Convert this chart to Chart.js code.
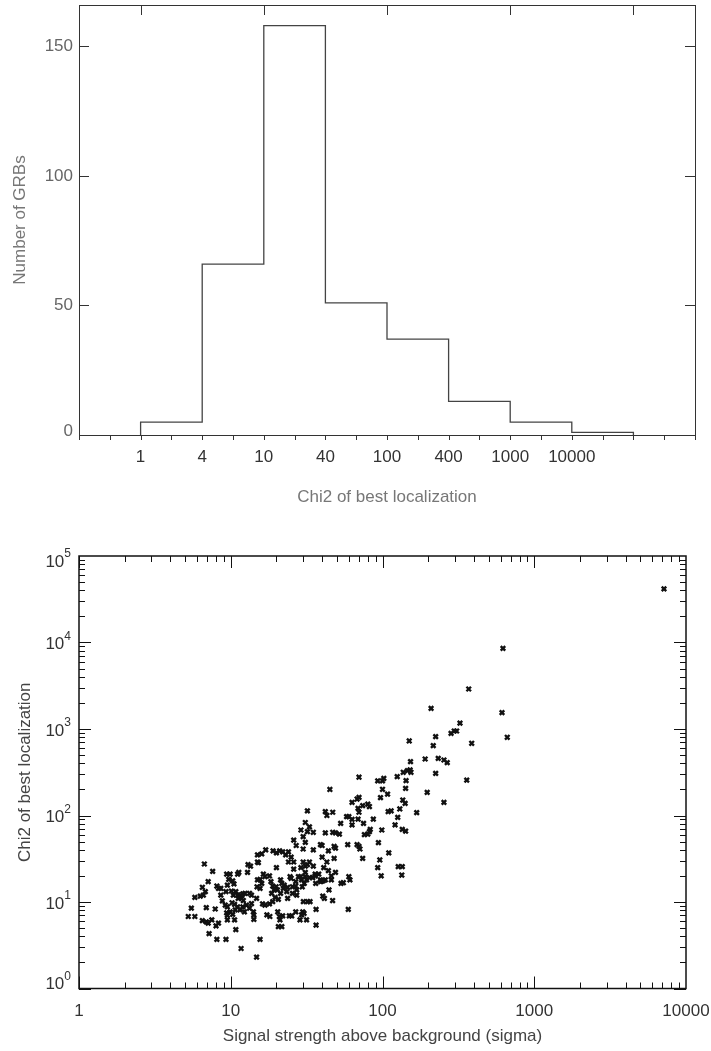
<!DOCTYPE html>
<html>
<head>
<meta charset="utf-8">
<script src="https://cdn.jsdelivr.net/npm/chart.js@4.4.0/dist/chart.umd.min.js"></script>
<style>
  html, body { margin: 0; padding: 0; background: #fff; }
  body { width: 711px; height: 1051px; position: relative; overflow: hidden; }
  canvas { position: absolute; left: 0; }
  #hist { top: 0; }
  #scat { top: 530px; }
</style>
</head>
<body>
<canvas id="hist" width="711" height="520"></canvas>
<canvas id="scat" width="711" height="521"></canvas>
<script>
// ===== DADOS: histograma =====
const binLabels = ['1', '4', '10', '40', '100', '400', '1000', '10000'];
const binCounts = [5, 66, 158, 51, 37, 13, 5, 1];
const countTicks = [0, 50, 100, 150];

// ===== DADOS: dispersão (sigma x chi2) =====
const sigmaFaint = [
  45, 63, 68, 70, 69, 74, 80, 82, 70, 32,
  42, 47, 43, 58, 60, 63, 53, 63, 69, 75,
  87, 83, 82, 80, 76, 31, 33, 32, 35, 30,
  29, 42, 47, 49, 52, 26, 27, 31, 30, 35,
  39, 40, 44, 48, 49, 43, 59, 68, 71, 70,
  74, 48, 40, 15, 16, 17, 19, 20, 21, 22,
  23, 24, 25, 24, 20, 26, 26, 30, 31, 32,
  33, 29, 31, 35, 36, 36, 38, 39, 40, 42,
  44, 46, 46, 49, 41, 13, 13.5, 15, 15.2, 6.7,
  7.6, 9.4, 9.9, 11.1, 11.3, 12.9, 7.1, 16.4, 16.8, 18,
  15.6, 15, 16, 14.9, 15.6, 18.4, 18.9, 19.9, 21.3, 21.7,
  22.5, 22.2, 23.7, 23.4, 21.3, 20.3, 19.3, 24.6, 25, 26.8,
  27.9, 28.9, 29.3, 30.9, 31.6, 30.5, 29.6, 33, 34.7, 25.5,
  26.8, 27.2, 25.5, 23.7, 27.2, 30.1, 32.1, 33.3, 36.3, 39.1,
  40.7, 53.3, 55.2, 60, 61, 44.4, 40.4, 41.4, 46.9, 59.5,
  36.5, 9.7, 9.5, 10.3, 10.5, 8.1, 8.3, 8.6, 6.5, 6.8,
  6.6, 6.3, 5.8, 9.3, 8.6, 10.1, 10.4, 10.8, 11.1, 11.6,
  12, 12.4, 13.3, 13.7, 14.8, 11.8, 11.2, 8.8, 9.2, 9.5,
  10.2, 10.6, 11.1, 12.1, 12, 12.7, 13.3, 13.7, 14.1, 12.3,
  11.5, 10.7, 9.4, 9.9, 10.3, 9.5, 14.2, 14.2, 16.2, 16.8,
  18, 18.9, 20.6, 19.6, 18.6, 17.3, 18.1, 20.4, 20.9, 21.1,
  22, 20.6, 21.7, 24.3, 25.2, 26.8, 29.8, 30.4, 29.3, 28.6,
  31.6, 36.5, 5.5, 5.25, 5.8, 6.9, 7.9, 6.5, 6.9, 7.1,
  7.5, 8, 8.3, 7.2, 8.1, 9.3, 9.5, 10.6, 10.8, 11.7,
  15.6, 14.8
];
const chi2Faint = [
  200, 142, 155, 162, 121, 130, 135, 127, 109, 113,
  111, 109, 100, 97, 97, 90, 81, 78, 91, 81,
  91, 69, 65, 61, 60, 83, 74, 65, 64, 57,
  68, 63, 64, 63, 61, 52, 45, 49, 41, 40,
  46, 45, 39, 44, 42, 29, 46, 46, 41, 44,
  32, 32, 33, 35, 36, 40, 39, 37, 39, 38,
  35, 38, 33, 29, 25, 24, 29, 29, 26, 27,
  29, 25, 22, 26, 21, 20, 21, 18, 17.5, 18,
  23, 20, 18, 22, 25, 27, 26, 29, 28.5, 27.5,
  22.6, 21, 21, 21, 22, 22, 17.2, 21, 19.6, 20,
  18.3, 18, 16.4, 15, 14.4, 17.2, 15.3, 15, 18, 16.4,
  15.7, 14.4, 14.8, 13.2, 12.6, 13.8, 13.8, 19.6, 18.8, 17.2,
  19.6, 19.6, 18, 19.6, 18, 16.4, 15, 19.1, 19.1, 15,
  15.3, 13.8, 12.6, 11, 12, 10.1, 10.1, 10.1, 16.4, 17.2,
  17.6, 16.4, 16.7, 19.6, 18, 13.8, 11.7, 11, 10.4, 8.2,
  8.2, 18.3, 15.7, 17.5, 16.2, 15.3, 14.4, 14.4, 14.8, 13.2,
  12, 11.7, 11.3, 13.2, 12, 13.4, 12, 13.2, 12, 12,
  12.4, 12.6, 12.6, 12, 11, 11, 11, 10.3, 9.2, 8.8,
  9.8, 9.4, 8.8, 10.4, 8.8, 9.2, 8.5, 9.6, 7.7, 7.7,
  8.1, 8.1, 7.5, 7.7, 7.2, 7.0, 7.1, 6.3, 9.5, 9.2,
  9.5, 10.1, 10.7, 11.3, 12.6, 7.1, 6.8, 7.7, 6.8, 6.2,
  6.9, 5.2, 5.2, 6.9, 6.9, 7.7, 7.7, 7.4, 7.1, 6.2,
  6.2, 5.4, 8.5, 6.8, 6.8, 8.6, 8.3, 6.1, 5.9, 5.7,
  6.2, 5.3, 5.7, 4.3, 3.7, 3.7, 6.2, 6.2, 4.8, 2.9,
  3.7, 2.3
];
const sigmaBright = [
  324, 297, 308, 283, 224, 216, 387, 150, 191, 233,
  254, 267, 153, 146, 152, 137, 154, 224, 125, 143,
  359, 93, 100, 102, 100, 97, 108, 142, 197, 254,
  136, 141, 130, 168, 109, 114, 126, 121, 135, 142,
  99, 94, 110, 96, 93, 127, 135, 98, 134,
  7160, 622, 370, 209, 613, 664, 70
];
const chi2Bright = [
  1170, 948, 948, 892, 815, 641, 684, 727, 450, 458,
  438, 408, 419, 330, 336, 316, 316, 307, 281, 253,
  257, 251, 251, 269, 201, 161, 177, 206, 185, 142,
  151, 138, 119, 108, 111, 113, 95, 78, 69, 66,
  68, 48.5, 37, 30.6, 25, 25.6, 25.6, 20.1, 20.5,
  41600, 8570, 2900, 1735, 1545, 802, 277
];
const sigmaTicks = [1, 10, 100, 1000, 10000];
const chi2Exponents = [0, 1, 2, 3, 4, 5];

const FONT = '"Liberation Sans", Arial, Helvetica, sans-serif';

function seg(ctx, x1, y1, x2, y2) {
  ctx.beginPath();
  ctx.moveTo(x1, y1);
  ctx.lineTo(x2, y2);
  ctx.stroke();
}

// ===== HISTOGRAMA =====
// contorno em degraus: cada bin vai da borda i+1 até i+2 (posição no eixo)
const stepPts = [{ x: 1, y: 0 }];
binCounts.forEach((c, i) => stepPts.push({ x: i + 1, y: c }));
stepPts.push({ x: binCounts.length + 1, y: binCounts[binCounts.length - 1] });
stepPts.push({ x: binCounts.length + 1, y: 0 });

const histAxes = {
  id: 'histAxes',
  afterDraw(chart) {
    const { ctx, chartArea: a, scales: { x, y } } = chart;
    ctx.save();
    ctx.strokeStyle = '#333';
    ctx.lineWidth = 1;
    ctx.strokeRect(a.left + 0.5, a.top + 0.5, a.right - a.left, a.bottom - a.top);

    // marcas sob o eixo, a cada meia posição
    for (let v = 0; v <= 10; v += 0.5) {
      const px = Math.round(x.getPixelForValue(v)) + 0.5;
      seg(ctx, px, a.bottom, px, a.bottom + 5);
    }
    // marcas no topo
    [1, 3, 5, 7, 9].forEach(v => {
      const px = Math.round(x.getPixelForValue(v)) + 0.5;
      seg(ctx, px, a.top, px, a.top + 10);
    });
    // marcas do eixo y
    countTicks.forEach(v => {
      const py = Math.round(y.getPixelForValue(v)) + 0.5;
      seg(ctx, a.left, py, a.left + 10, py);
      seg(ctx, a.right, py, a.right - 10, py);
    });

    ctx.font = '17px ' + FONT;
    ctx.fillStyle = '#666';
    ctx.textAlign = 'right';
    ctx.textBaseline = 'middle';
    countTicks.forEach(v => {
      const py = y.getPixelForValue(v);
      ctx.fillText(String(v), a.left - 6, v === 0 ? py - 4 : py);
    });

    ctx.fillStyle = '#333';
    ctx.textAlign = 'center';
    binLabels.forEach((t, i) => {
      ctx.fillText(t, x.getPixelForValue(i + 1), a.bottom + 22);
    });

    ctx.fillStyle = '#777';
    ctx.fillText('Chi2 of best localization', (a.left + a.right) / 2, a.bottom + 62);

    ctx.translate(20, (a.top + a.bottom) / 2);
    ctx.rotate(-Math.PI / 2);
    ctx.fillText('Number of GRBs', 0, 0);
    ctx.restore();
  }
};

new Chart(document.getElementById('hist'), {
  type: 'line',
  data: {
    datasets: [{
      data: stepPts,
      stepped: true,
      borderColor: '#444',
      borderWidth: 1.3,
      pointRadius: 0,
      fill: false,
      clip: false
    }]
  },
  options: {
    responsive: false,
    animation: false,
    layout: { padding: { left: 79, right: 16, top: 5, bottom: 85 } },
    plugins: { legend: { display: false }, tooltip: { enabled: false } },
    scales: {
      x: { type: 'linear', min: 0, max: 10, display: false },
      y: { type: 'linear', min: 0, max: 166, display: false }
    }
  },
  plugins: [histAxes]
});

// ===== DISPERSÃO =====
const logAxes = {
  id: 'logAxes',
  afterDraw(chart) {
    const { ctx, chartArea: a, scales: { x, y } } = chart;
    ctx.save();
    ctx.strokeStyle = '#111';
    ctx.lineWidth = 1.5;
    ctx.strokeRect(a.left, a.top, a.right - a.left, a.bottom - a.top);

    ctx.lineWidth = 1;
    for (let d = 1; d < 10000; d *= 10) {
      for (let m = 1; m < 10; m++) {
        const px = Math.round(x.getPixelForValue(d * m)) + 0.5;
        const len = m === 1 ? 12 : 6;
        seg(ctx, px, a.bottom, px, a.bottom - len);
        seg(ctx, px, a.top, px, a.top + len);
      }
    }
    for (let d = 1; d < 100000; d *= 10) {
      for (let m = 1; m < 10; m++) {
        const py = Math.round(y.getPixelForValue(d * m)) + 0.5;
        const len = m === 1 ? 12 : 6;
        seg(ctx, a.left, py, a.left + len, py);
        seg(ctx, a.right, py, a.right - len, py);
      }
    }

    ctx.fillStyle = '#333';
    ctx.font = '17px ' + FONT;
    ctx.textAlign = 'center';
    ctx.textBaseline = 'middle';
    sigmaTicks.forEach(v => {
      ctx.fillText(String(v), x.getPixelForValue(v), a.bottom + 23);
    });

    // rótulos 10^n
    chi2Exponents.forEach(e => {
      let py = y.getPixelForValue(Math.pow(10, e)) + 2;
      if (e === chi2Exponents[chi2Exponents.length - 1]) py += 4;
      if (e === 0) py -= 6;
      ctx.font = '12px ' + FONT;
      const wSup = ctx.measureText(String(e)).width;
      ctx.textAlign = 'right';
      ctx.fillText(String(e), a.left - 8, py - 8);
      ctx.font = '17px ' + FONT;
      ctx.fillText('10', a.left - 8 - wSup, py);
    });

    ctx.fillStyle = '#444';
    ctx.textAlign = 'center';
    ctx.fillText('Signal strength above background (sigma)', (a.left + a.right) / 2, a.bottom + 48);

    ctx.translate(25, (a.top + a.bottom) / 2);
    ctx.rotate(-Math.PI / 2);
    ctx.fillText('Chi2 of best localization', 0, 0);
    ctx.restore();
  }
};

const toPts = (xs, ys) => xs.map((s, i) => ({ x: s, y: ys[i] }));

new Chart(document.getElementById('scat'), {
  type: 'scatter',
  data: {
    datasets: [
      { data: toPts(sigmaFaint, chi2Faint) },
      { data: toPts(sigmaBright, chi2Bright) }
    ]
  },
  options: {
    responsive: false,
    animation: false,
    layout: { padding: { left: 79, right: 25, top: 26, bottom: 62.5 } },
    elements: {
      point: {
        pointStyle: 'crossRot',
        radius: 3.2,
        borderWidth: 2.4,
        borderColor: '#111',
        backgroundColor: '#111'
      }
    },
    plugins: { legend: { display: false }, tooltip: { enabled: false } },
    scales: {
      x: { type: 'logarithmic', min: 1, max: 10000, display: false },
      y: { type: 'logarithmic', min: 1, max: 100000, display: false }
    }
  },
  plugins: [logAxes]
});
</script>
</body>
</html>
